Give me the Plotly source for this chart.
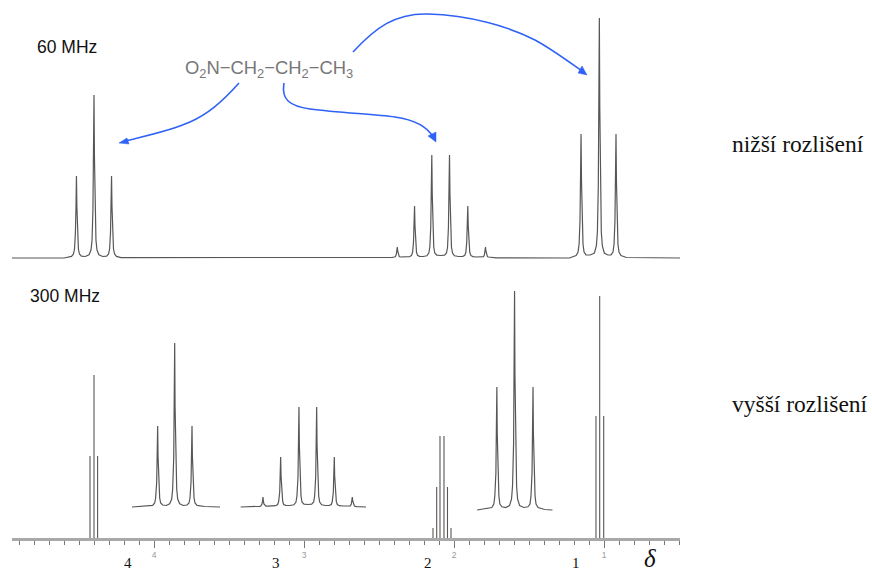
import plotly.graph_objects as go

W, H = 872, 574

# ---- 60 MHz trace (delta ppm, height above baseline)
low_x = [4.947, 4.60,
         4.550, 4.537, 4.530, 4.524, 4.520, 4.517, 4.514, 4.510, 4.504, 4.497, 4.484, 4.458,
         4.433, 4.420, 4.413, 4.407, 4.403, 4.400, 4.397, 4.393, 4.387, 4.380, 4.367, 4.342,
         4.316, 4.303, 4.296, 4.290, 4.286, 4.283, 4.280, 4.276, 4.270, 4.263, 4.250, 4.22,
         2.50, 2.44,
         2.411, 2.398, 2.391, 2.385, 2.381, 2.378, 2.375, 2.371, 2.365, 2.358, 2.345, 2.320,
         2.296, 2.283, 2.276, 2.270, 2.266, 2.263, 2.260, 2.256, 2.250, 2.243, 2.230, 2.205,
         2.181, 2.168, 2.161, 2.155, 2.151, 2.148, 2.145, 2.141, 2.135, 2.128, 2.115, 2.089,
         2.063, 2.050, 2.043, 2.037, 2.033, 2.030, 2.027, 2.023, 2.017, 2.010, 1.997, 1.969,
         1.941, 1.928, 1.921, 1.915, 1.911, 1.908, 1.905, 1.901, 1.895, 1.888, 1.875, 1.849,
         1.823, 1.810, 1.803, 1.797, 1.793, 1.790, 1.787, 1.783, 1.777, 1.770, 1.757, 1.72,
         1.23,
         1.186, 1.173, 1.166, 1.160, 1.156, 1.153, 1.150, 1.146, 1.140, 1.133, 1.120, 1.092,
         1.064, 1.051, 1.044, 1.038, 1.034, 1.031, 1.028, 1.024, 1.018, 1.011, 0.998, 0.975,
         0.953, 0.940, 0.933, 0.927, 0.923, 0.920, 0.917, 0.913, 0.907, 0.900, 0.887, 0.85, 0.493]
low_y = [0, 0,
         1.6, 4, 9, 25, 51, 82, 51, 25, 9, 4, 1.8, 1.5,
         3.3, 8, 18, 49, 101, 163, 101, 49, 18, 8, 3.3, 1.5,
         1.8, 4, 9, 25, 51, 82, 51, 25, 9, 4, 1.6, 0.4,
         0, 0.3,
         0.6, 1, 1.4, 3.3, 6.8, 11, 6.8, 3.3, 1.4, 1, 1, 1,
         1.4, 2.6, 5.7, 16, 32, 52, 32, 16, 5.7, 2.6, 1.6, 1.5,
         2.2, 5, 11, 31, 64, 103, 64, 31, 11, 5, 2.8, 2.5,
         2.8, 5, 11, 31, 64, 103, 64, 31, 11, 5, 2.2, 1.5,
         1.6, 2.6, 5.7, 16, 32, 52, 32, 16, 5.7, 2.6, 1.4, 1,
         1, 1, 1.4, 3.3, 6.8, 11, 6.8, 3.3, 1.4, 1, 0.6, 0.2,
         0,
         2.5, 6, 14, 37, 77, 124, 77, 37, 14, 6, 3.2, 3,
         5, 12, 26, 72, 149, 240, 149, 72, 26, 12, 5, 3,
         3.2, 6, 14, 37, 77, 124, 77, 37, 14, 6, 2.5, 0.5, 0]

# ---- 300 MHz stick peaks
high_peaks = [4.4267, 4.400, 4.376, 2.140, 2.1153, 2.0934, 2.0667, 2.0434, 2.020, 1.0534, 1.0287, 1.002]
high_heights = [82, 163, 82, 10, 51, 102, 102, 51, 10, 122, 242, 122]
axis_range = [4.9467, 0.4933]
axis_ticks = [4, 3, 2, 1]

# ---- Expanded insets of the 300 MHz multiplets
inset_no2_x = [4.4569,
               4.4294, 4.4267, 4.4254, 4.4240, 4.4232, 4.4227, 4.4222, 4.4214, 4.4200, 4.4187, 4.4160, 4.4113,
               4.4067, 4.4040, 4.4027, 4.4013, 4.4005, 4.4000, 4.3995, 4.3987, 4.3973, 4.3960, 4.3933, 4.3885,
               4.3836, 4.3809, 4.3796, 4.3782, 4.3774, 4.3769, 4.3764, 4.3756, 4.3742, 4.3729, 4.3702, 4.3600, 4.3396]
inset_no2_y = [0,
               1.6, 4, 9, 25, 51, 81, 51, 25, 9, 4, 2, 1.5,
               3.3, 8, 18, 49, 101, 164, 101, 49, 18, 8, 3.3, 1.5,
               2, 4, 9, 25, 51, 81, 51, 25, 9, 4, 1.6, 0.5, 0]
inset_mid_x = [2.1696, 2.155,
               2.1466, 2.1439, 2.1426, 2.1412, 2.1404, 2.1399, 2.1394, 2.1386, 2.1372, 2.1359, 2.1332, 2.1281,
               2.1230, 2.1203, 2.1190, 2.1176, 2.1168, 2.1163, 2.1158, 2.1150, 2.1136, 2.1123, 2.1096, 2.1041,
               2.0986, 2.0959, 2.0946, 2.0932, 2.0924, 2.0919, 2.0914, 2.0906, 2.0892, 2.0879, 2.0852, 2.0801,
               2.0750, 2.0723, 2.0710, 2.0696, 2.0688, 2.0683, 2.0678, 2.0670, 2.0656, 2.0643, 2.0616, 2.0566,
               2.0515, 2.0488, 2.0475, 2.0461, 2.0453, 2.0448, 2.0443, 2.0435, 2.0421, 2.0408, 2.0381, 2.0328,
               2.0275, 2.0248, 2.0235, 2.0221, 2.0213, 2.0208, 2.0203, 2.0195, 2.0181, 2.0168, 2.0141, 2.0025]
inset_mid_y = [0, 0.1,
               0.4, 0.7, 1.2, 3, 6.2, 10, 6.2, 3, 1.2, 0.8, 0.8, 1,
               1.3, 2.5, 5.5, 15, 31, 50, 31, 15, 5.5, 2.5, 1.6, 1.5,
               2.2, 5, 11, 30, 62, 100, 62, 30, 11, 5, 2.8, 2.5,
               2.8, 5, 11, 30, 62, 100, 62, 30, 11, 5, 2.2, 1.5,
               1.6, 2.5, 5.5, 15, 31, 50, 31, 15, 5.5, 2.5, 1.3, 1,
               0.8, 0.8, 1.2, 3, 6.2, 10, 6.2, 3, 1.2, 0.7, 0.4, 0]
inset_me_x = [1.0797,
              1.0602, 1.0575, 1.0562, 1.0548, 1.0540, 1.0535, 1.0530, 1.0522, 1.0508, 1.0495, 1.0468, 1.0418,
              1.0367, 1.0340, 1.0327, 1.0313, 1.0305, 1.0300, 1.0295, 1.0287, 1.0273, 1.0260, 1.0233, 1.0178,
              1.0122, 1.0095, 1.0082, 1.0068, 1.0060, 1.0055, 1.0050, 1.0042, 1.0028, 1.0015, 0.9988, 0.9900, 0.9797]
inset_me_y = [0,
              2.5, 6, 14, 37, 77, 123, 77, 37, 14, 6, 3.2, 2.5,
              4.4, 11, 24, 66, 136, 219, 136, 66, 24, 11, 4.4, 2.5,
              3.2, 6, 14, 37, 77, 123, 77, 37, 14, 6, 2.5, 0.5, 0]

formula = "O<sub>2</sub>N−CH<sub>2</sub>−CH<sub>2</sub>−CH<sub>3</sub>"
LINE = "#5a5655"
BLUE = "#2f62f5"

def X(px):
    return px / W

def Y(py):
    return 1 - py / H

sticks_x, sticks_y = [], []
for p, h in zip(high_peaks, high_heights):
    sticks_x += [p, p, None]
    sticks_y += [0, h, None]

fig = go.Figure()
fig.add_trace(go.Scatter(x=low_x, y=low_y, xaxis="x", yaxis="y", mode="lines",
                         line=dict(color=LINE, width=1.2)))
fig.add_trace(go.Scatter(x=sticks_x, y=sticks_y, xaxis="x2", yaxis="y2", mode="lines",
                         line=dict(color=LINE, width=1.1)))
fig.add_trace(go.Scatter(x=inset_no2_x, y=inset_no2_y, xaxis="x3", yaxis="y3", mode="lines",
                         line=dict(color=LINE, width=1.2)))
fig.add_trace(go.Scatter(x=inset_mid_x, y=inset_mid_y, xaxis="x4", yaxis="y3", mode="lines",
                         line=dict(color=LINE, width=1.2)))
fig.add_trace(go.Scatter(x=inset_me_x, y=inset_me_y, xaxis="x5", yaxis="y4", mode="lines",
                         line=dict(color=LINE, width=1.2)))

hidden = dict(visible=False, domain=[0, 1])
dom = [X(12), X(680)]
fig.update_layout(
    width=W, height=H, margin=dict(l=0, r=0, t=0, b=0),
    paper_bgcolor="white", plot_bgcolor="white", showlegend=False,
    xaxis=dict(visible=False, domain=dom, range=axis_range, anchor="y"),
    xaxis2=dict(domain=dom, range=axis_range, anchor="free", overlaying="x", position=Y(539),
                showline=True, linecolor="#a9a9a9", linewidth=3, showgrid=False, zeroline=False,
                tickmode="array", tickvals=axis_ticks, ticks="outside", ticklen=7, tickwidth=1,
                tickcolor="#777777", tickfont=dict(family="Liberation Sans", size=8.5, color="#999999"),
                minor=dict(dtick=0.1, tick0=0, ticks="outside", ticklen=4, tickwidth=1, tickcolor="#777777")),
    xaxis3=dict(range=[4.6169, 3.7263], anchor="y3", overlaying="x", domain=dom, visible=False),
    xaxis4=dict(range=[2.4745, 1.5839], anchor="y3", overlaying="x", domain=dom, visible=False),
    xaxis5=dict(range=[1.6971, 0.8104], anchor="y4", overlaying="x", domain=dom, visible=False),
    yaxis=dict(range=[-316, 258], anchor="x", **hidden),
    yaxis2=dict(range=[-36, 538], anchor="x2", overlaying="y", **hidden),
    yaxis3=dict(range=[-67, 507], anchor="x3", overlaying="y", **hidden),
    yaxis4=dict(range=[-64, 510], anchor="x5", overlaying="y", **hidden),
)

def label(text, px, py, family, size, color="#111111", anchor="left", **kw):
    fig.add_annotation(text=text, xref="paper", yref="paper", x=X(px), y=Y(py), showarrow=False,
                       xanchor=anchor, yanchor="middle",
                       font=dict(family=family, size=size, color=color), **kw)

NARROW = "Liberation Sans Narrow, Liberation Sans"
SERIF = "Liberation Serif"
label("60 MHz", 35, 47, NARROW, 17.5)
label("300 MHz", 28, 296, NARROW, 17.5)
label(formula, 183, 69, "Liberation Sans", 18.4, "#777777")
label("nižší rozlišení", 730, 144, SERIF, 23.5)
label("vyšší rozlišení", 730, 404, SERIF, 23.5)
label("4", 128, 563, SERIF, 15, anchor="center")
label("3", 276, 563, SERIF, 15, anchor="center")
label("2", 428, 563, SERIF, 15, anchor="center")
label("1", 576, 563, SERIF, 15, anchor="center")
label("<i>δ</i>", 650, 558, SERIF, 25, anchor="center")

def P(px, py):
    return f"{X(px):.5f} {Y(py):.5f}"

def curve(*segments):
    d = f"M {P(*segments[0])}"
    for a, b, c in segments[1:]:
        d += f" C {P(*a)}, {P(*b)}, {P(*c)}"
    fig.add_shape(type="path", path=d, xref="paper", yref="paper",
                  line=dict(color=BLUE, width=1.6))

def head(tip, a, b):
    d = f"M {P(*tip)} L {P(*a)} L {P(*b)} Z"
    fig.add_shape(type="path", path=d, xref="paper", yref="paper",
                  fillcolor=BLUE, line=dict(color=BLUE, width=0.5))

# CH3 arrow
curve((353, 52), ((375, 28), (395, 13), (428, 14)), ((470, 15), (510, 27), (535, 40)), ((550, 48), (565, 59), (582, 71)))
head((587, 75), (578, 73), (582, 66))
# middle CH2 arrow
curve((284, 83), ((281, 100), (290, 106), (310, 109)), ((340, 113), (375, 114), (395, 117)), ((415, 120), (427, 126), (433, 137)))
head((436, 142), (428, 136), (436, 132))
# NO2-CH2 arrow
curve((239, 83), ((222, 102), (208, 114), (190, 122)), ((170, 131), (145, 136), (125, 141)))
head((119, 143), (127, 138), (129, 144))

fig.write_html("out.html", config={"displayModeBar": False},
               post_script="document.body.style.margin='0';window.dispatchEvent(new Event('resize'));")
